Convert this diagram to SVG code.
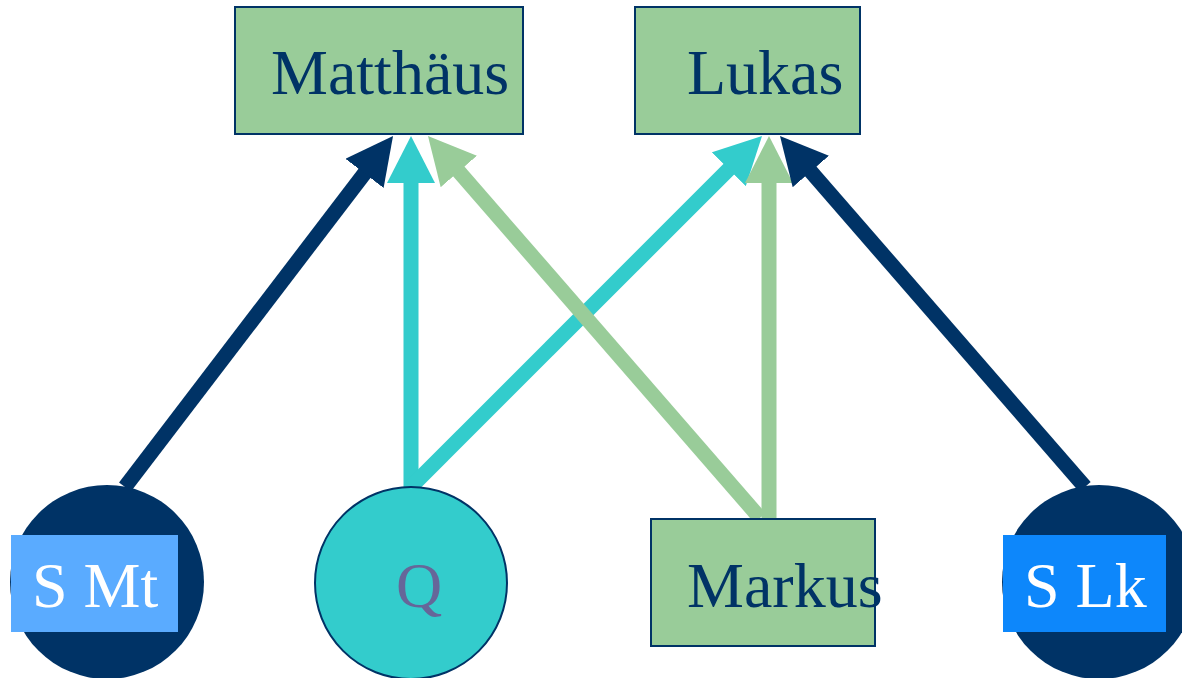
<svg xmlns="http://www.w3.org/2000/svg" width="1182" height="678" viewBox="0 0 1182 678">
  <style>
    .box { fill: #99cc99; stroke: #003366; stroke-width: 2; }
    .lbl { font-family: "Liberation Serif", "Times New Roman", serif; font-size: 64px; }
    .dark { fill: #003366; }
    .white { fill: #ffffff; }
    .edge { fill: none; stroke-width: 15; stroke-linecap: butt; }
    .navy { stroke: #003366; }
    .cyan { stroke: #33cccc; }
    .green { stroke: #99cc99; }
  </style>
  <defs>
    <marker id="hNavy" markerUnits="userSpaceOnUse" markerWidth="48" markerHeight="48" refX="27" refY="24" orient="auto" viewBox="0 0 48 48">
      <path d="M0,0 L47,24 L0,48 z" fill="#003366"/>
    </marker>
    <marker id="hCyan" markerUnits="userSpaceOnUse" markerWidth="48" markerHeight="48" refX="27" refY="24" orient="auto" viewBox="0 0 48 48">
      <path d="M0,0 L47,24 L0,48 z" fill="#33cccc"/>
    </marker>
    <marker id="hGreen" markerUnits="userSpaceOnUse" markerWidth="48" markerHeight="48" refX="27" refY="24" orient="auto" viewBox="0 0 48 48">
      <path d="M0,0 L47,24 L0,48 z" fill="#99cc99"/>
    </marker>
  </defs>
  <rect width="1182" height="678" fill="#ffffff"/>

  <g id="connectors">
    <line class="edge cyan" x1="411" y1="487" x2="411" y2="156" marker-end="url(#hCyan)"/>
    <line class="edge cyan" x1="411" y1="487" x2="747.9" y2="150.1" marker-end="url(#hCyan)"/>
    <line class="edge green" x1="760" y1="518" x2="441.1" y2="151.1" marker-end="url(#hGreen)"/>
    <line class="edge green" x1="769" y1="518" x2="769" y2="156" marker-end="url(#hGreen)"/>
    <line class="edge navy" x1="125" y1="487" x2="380.9" y2="151.9" marker-end="url(#hNavy)"/>
    <line class="edge navy" x1="1085" y1="487" x2="793.1" y2="151.1" marker-end="url(#hNavy)"/>
  </g>

  <g id="matthaeus">
    <rect class="box" x="235" y="7" width="288" height="127"/>
    <text class="lbl dark" x="271" y="94">Matthäus</text>
  </g>
  <g id="lukas">
    <rect class="box" x="635" y="7" width="225" height="127"/>
    <text class="lbl dark" x="687" y="94">Lukas</text>
  </g>
  <g id="markus">
    <rect class="box" x="651" y="519" width="224" height="127"/>
    <text class="lbl dark" x="687" y="607">Markus</text>
  </g>
  <g id="smt">
    <circle cx="107" cy="582" r="97" fill="#003366"/>
    <rect x="11" y="535" width="167" height="97" fill="#5aabff"/>
    <text class="lbl white" x="32" y="607">S Mt</text>
  </g>
  <g id="q">
    <circle cx="411" cy="583" r="96" fill="#33cccc" stroke="#003366" stroke-width="2"/>
    <text class="lbl" x="396" y="607" fill="#666699">Q</text>
  </g>
  <g id="slk">
    <circle cx="1099" cy="582" r="97" fill="#003366"/>
    <rect x="1003" y="535" width="163" height="97" fill="#0d87fb"/>
    <text class="lbl white" x="1024" y="607">S Lk</text>
  </g>
</svg>
